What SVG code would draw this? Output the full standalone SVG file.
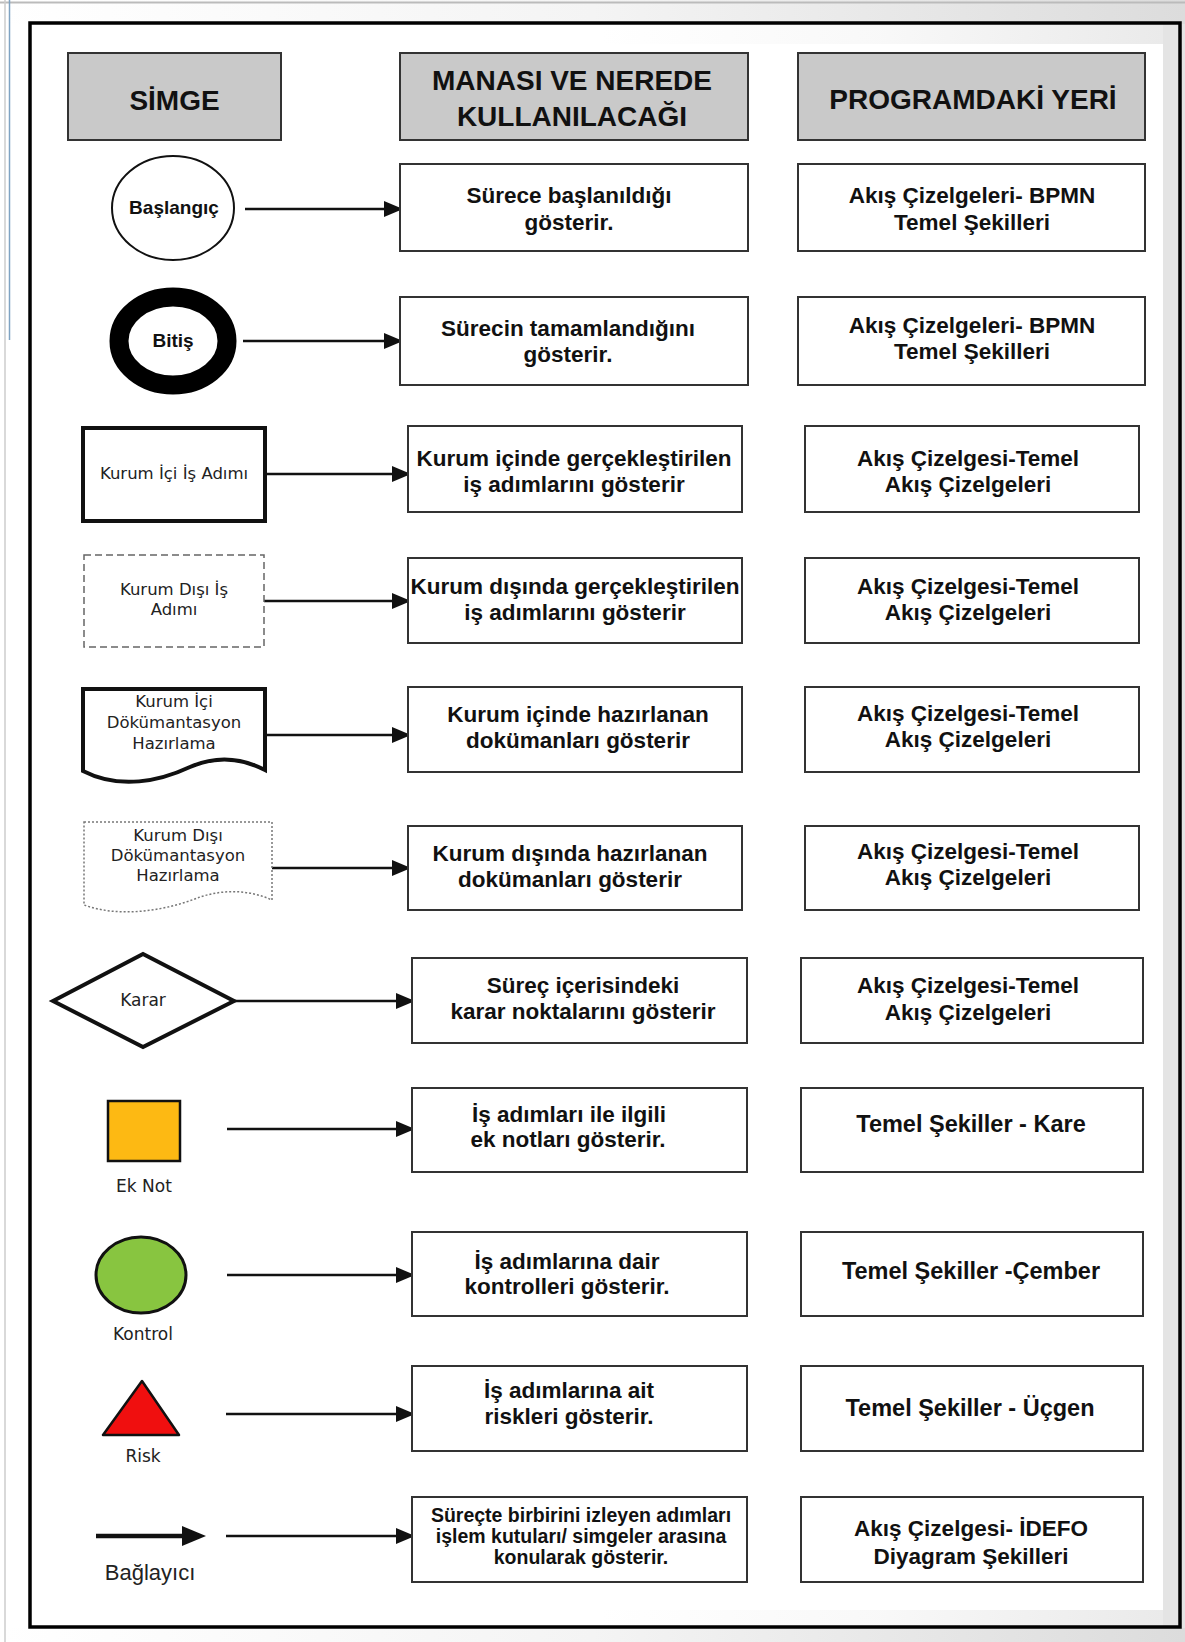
<svg xmlns="http://www.w3.org/2000/svg" width="1185" height="1642" viewBox="0 0 1185 1642">
<defs>
<style>
.hdr{fill:#c9c9c9;stroke:#333;stroke-width:2}
.box{fill:#fff;stroke:#333;stroke-width:2}
.h{font-family:"Liberation Sans",sans-serif;font-weight:bold;font-size:28px;text-anchor:middle;fill:#111}
.t{font-family:"Liberation Sans",sans-serif;font-weight:bold;font-size:22.5px;text-anchor:middle;fill:#111}
.tb{font-family:"Liberation Sans",sans-serif;font-weight:bold;font-size:23.5px;text-anchor:middle;fill:#111}
.tm{font-family:"Liberation Sans",sans-serif;font-weight:bold;font-size:22.5px;text-anchor:middle;fill:#111}
.ts{font-family:"Liberation Sans",sans-serif;font-weight:bold;font-size:19px;text-anchor:middle;fill:#111}
.tx{font-family:"Liberation Sans",sans-serif;font-weight:bold;font-size:19.5px;text-anchor:middle;fill:#111}
.s{font-family:"DejaVu Sans",sans-serif;font-size:16.5px;text-anchor:middle;fill:#222}
.sm{font-family:"DejaVu Sans",sans-serif;font-size:17px;text-anchor:middle;fill:#222}
.sn{font-family:"Liberation Sans",sans-serif;font-size:22px;text-anchor:middle;fill:#222}
.conn{stroke:#111;stroke-width:2.5;fill:none;marker-end:url(#ah)}
</style>
<marker id="ah" markerUnits="userSpaceOnUse" markerWidth="20" markerHeight="18" refX="18" refY="8" orient="auto">
<path d="M0,0 L19,8 L0,16 Z" fill="#111"/>
</marker>
<linearGradient id="gr" x1="0" y1="0" x2="1" y2="0">
<stop offset="0" stop-color="#fff"/>
<stop offset="0.5" stop-color="#f4f4f4"/>
<stop offset="1" stop-color="#dcdcdc"/>
</linearGradient>
</defs>
<rect x="0" y="0" width="1185" height="1642" fill="#fff"/>
<rect x="0" y="0" width="1185" height="24" fill="url(#gr)"/>
<rect x="0" y="1628" width="1185" height="14" fill="url(#gr)"/>
<rect x="1163" y="24" width="22" height="1604" fill="#e4e4e4"/>
<rect x="600" y="24" width="563" height="20" fill="url(#gr)" opacity="0.6"/>
<rect x="600" y="1610" width="563" height="18" fill="url(#gr)" opacity="0.6"/>
<line x1="0" y1="2.5" x2="1185" y2="2.5" stroke="#bbb" stroke-width="2"/>
<line x1="5" y1="0" x2="5" y2="1642" stroke="#ccc" stroke-width="1.5"/>
<line x1="9.5" y1="0" x2="9.5" y2="340" stroke="#7fa3c2" stroke-width="1.5"/>
<rect x="30" y="23" width="1150" height="1604" fill="none" stroke="#000" stroke-width="3.5"/>

<g id="headers">
<g id="h-simge"><rect class="hdr" x="68" y="53" width="213" height="87"/><text class="h" x="174.5" y="110">SİMGE</text></g>
<g id="h-manasi"><rect class="hdr" x="400" y="53" width="348" height="87"/><text class="h" x="572" y="90">MANASI VE NEREDE</text><text class="h" x="572" y="126">KULLANILACAĞI</text></g>
<g id="h-program"><rect class="hdr" x="798" y="53" width="347" height="87"/><text class="h" x="973" y="109">PROGRAMDAKİ YERİ</text></g>
</g>

<g id="connectors">
<line class="conn" x1="245" y1="209" x2="402" y2="209"/>
<line class="conn" x1="243" y1="341" x2="402" y2="341"/>
<line class="conn" x1="265" y1="474" x2="410" y2="474"/>
<line class="conn" x1="264" y1="601" x2="410" y2="601"/>
<line class="conn" x1="265" y1="735" x2="410" y2="735"/>
<line class="conn" x1="272" y1="868" x2="410" y2="868"/>
<line class="conn" x1="234" y1="1001" x2="414" y2="1001"/>
<line class="conn" x1="227" y1="1129" x2="414" y2="1129"/>
<line class="conn" x1="227" y1="1275" x2="414" y2="1275"/>
<line class="conn" x1="226" y1="1414" x2="414" y2="1414"/>
<line class="conn" x1="226" y1="1536" x2="414" y2="1536"/>
</g>

<g id="sym-baslangic"><ellipse cx="173" cy="208" rx="61" ry="52" fill="#fff" stroke="#111" stroke-width="2"/><text class="ts" x="174" y="214">Başlangıç</text></g>
<g id="sym-bitis"><ellipse cx="173" cy="341" rx="54" ry="44" fill="#fff" stroke="#000" stroke-width="19"/><text class="ts" x="173" y="347">Bitiş</text></g>
<g id="sym-kurum-ici-is"><rect x="83" y="428" width="182" height="93" fill="#fff" stroke="#111" stroke-width="4"/><text class="s" x="174" y="479">Kurum İçi İş Adımı</text></g>
<g id="sym-kurum-disi-is"><rect x="84" y="555" width="180" height="92" fill="#fff" stroke="#666" stroke-width="1.5" stroke-dasharray="7,4"/><text class="s" x="174" y="595">Kurum Dışı İş</text><text class="s" x="174" y="615">Adımı</text></g>
<g id="sym-kurum-ici-dok"><path d="M83,689 H265 V770 C240,757 215,756 190,767 C160,781 120,790 83,771 Z" fill="#fff" stroke="#111" stroke-width="4"/><text class="s" x="174" y="707">Kurum İçi</text><text class="s" x="174" y="728">Dökümantasyon</text><text class="s" x="174" y="749">Hazırlama</text></g>
<g id="sym-kurum-disi-dok"><path d="M84,822 H272 V900 C250,890 225,889 200,897 C165,911 120,918 84,905 Z" fill="#fff" stroke="#777" stroke-width="1.5" stroke-dasharray="2,2"/><text class="s" x="178" y="841">Kurum Dışı</text><text class="s" x="178" y="861">Dökümantasyon</text><text class="s" x="178" y="881">Hazırlama</text></g>
<g id="sym-karar"><polygon points="53,1001 143,954 234,1001 143,1047" fill="#fff" stroke="#111" stroke-width="4"/><text class="sm" x="143" y="1006">Karar</text></g>
<g id="sym-eknot"><rect x="108" y="1101" width="72" height="60" fill="#fdb913" stroke="#111" stroke-width="2.5"/><text class="sm" x="144" y="1192">Ek Not</text></g>
<g id="sym-kontrol"><ellipse cx="141" cy="1275" rx="45" ry="38" fill="#88c540" stroke="#111" stroke-width="3"/><text class="sm" x="143" y="1340">Kontrol</text></g>
<g id="sym-risk"><polygon points="142,1381 179,1435 103,1435" fill="#f00f0f" stroke="#111" stroke-width="2.5" stroke-linejoin="round"/><text class="sm" x="143" y="1462">Risk</text></g>
<g id="sym-baglayici"><line x1="96" y1="1536" x2="184" y2="1536" stroke="#111" stroke-width="4.5"/><polygon points="182,1526 206,1536 182,1546" fill="#111"/><text class="sn" x="150" y="1580">Bağlayıcı</text></g>

<g id="m1"><rect class="box" x="400" y="164" width="348" height="87"/><text class="t" x="569" y="203">Sürece başlanıldığı</text><text class="t" x="569" y="230">gösterir.</text></g>
<g id="p1"><rect class="box" x="798" y="164" width="347" height="87"/><text class="t" x="972" y="203">Akış Çizelgeleri- BPMN</text><text class="t" x="972" y="230">Temel Şekilleri</text></g>
<g id="m2"><rect class="box" x="400" y="297" width="348" height="88"/><text class="t" x="568" y="336">Sürecin tamamlandığını</text><text class="t" x="568" y="362">gösterir.</text></g>
<g id="p2"><rect class="box" x="798" y="297" width="347" height="88"/><text class="t" x="972" y="333">Akış Çizelgeleri- BPMN</text><text class="t" x="972" y="359">Temel Şekilleri</text></g>
<g id="m3"><rect class="box" x="408" y="426" width="334" height="86"/><text class="t" x="574" y="466">Kurum içinde gerçekleştirilen</text><text class="t" x="574" y="492">iş adımlarını gösterir</text></g>
<g id="p3"><rect class="box" x="805" y="426" width="334" height="86"/><text class="t" x="968" y="466">Akış Çizelgesi-Temel</text><text class="t" x="968" y="492">Akış Çizelgeleri</text></g>
<g id="m4"><rect class="box" x="408" y="558" width="334" height="85"/><text class="t" x="575" y="594">Kurum dışında gerçekleştirilen</text><text class="t" x="575" y="620">iş adımlarını gösterir</text></g>
<g id="p4"><rect class="box" x="805" y="558" width="334" height="85"/><text class="t" x="968" y="594">Akış Çizelgesi-Temel</text><text class="t" x="968" y="620">Akış Çizelgeleri</text></g>
<g id="m5"><rect class="box" x="408" y="687" width="334" height="85"/><text class="t" x="578" y="722">Kurum içinde hazırlanan</text><text class="t" x="578" y="748">dokümanları gösterir</text></g>
<g id="p5"><rect class="box" x="805" y="687" width="334" height="85"/><text class="t" x="968" y="721">Akış Çizelgesi-Temel</text><text class="t" x="968" y="747">Akış Çizelgeleri</text></g>
<g id="m6"><rect class="box" x="408" y="826" width="334" height="84"/><text class="t" x="570" y="861">Kurum dışında hazırlanan</text><text class="t" x="570" y="887">dokümanları gösterir</text></g>
<g id="p6"><rect class="box" x="805" y="826" width="334" height="84"/><text class="t" x="968" y="859">Akış Çizelgesi-Temel</text><text class="t" x="968" y="885">Akış Çizelgeleri</text></g>
<g id="m7"><rect class="box" x="412" y="958" width="335" height="85"/><text class="t" x="583" y="993">Süreç içerisindeki</text><text class="t" x="583" y="1019">karar noktalarını gösterir</text></g>
<g id="p7"><rect class="box" x="801" y="958" width="342" height="85"/><text class="t" x="968" y="993">Akış Çizelgesi-Temel</text><text class="t" x="968" y="1020">Akış Çizelgeleri</text></g>
<g id="m8"><rect class="box" x="412" y="1088" width="335" height="84"/><text class="tm" x="569" y="1122">İş adımları ile ilgili</text><text class="tm" x="568" y="1147">ek notları gösterir.</text></g>
<g id="p8"><rect class="box" x="801" y="1088" width="342" height="84"/><text class="tb" x="971" y="1132">Temel Şekiller - Kare</text></g>
<g id="m9"><rect class="box" x="412" y="1232" width="335" height="84"/><text class="tm" x="567" y="1269">İş adımlarına dair</text><text class="tm" x="567" y="1294">kontrolleri gösterir.</text></g>
<g id="p9"><rect class="box" x="801" y="1232" width="342" height="84"/><text class="tb" x="971" y="1279">Temel Şekiller -Çember</text></g>
<g id="m10"><rect class="box" x="412" y="1366" width="335" height="85"/><text class="tm" x="569" y="1398">İş adımlarına ait</text><text class="tm" x="569" y="1424">riskleri gösterir.</text></g>
<g id="p10"><rect class="box" x="801" y="1366" width="342" height="85"/><text class="tb" x="970" y="1416">Temel Şekiller - Üçgen</text></g>
<g id="m11"><rect class="box" x="412" y="1497" width="335" height="85"/><text class="tx" x="581" y="1522">Süreçte birbirini izleyen adımları</text><text class="tx" x="581" y="1543">işlem kutuları/ simgeler arasına</text><text class="tx" x="581" y="1564">konularak gösterir.</text></g>
<g id="p11"><rect class="box" x="801" y="1497" width="342" height="85"/><text class="t" x="971" y="1536">Akış Çizelgesi- İDEFO</text><text class="t" x="971" y="1564">Diyagram Şekilleri</text></g>
</svg>
